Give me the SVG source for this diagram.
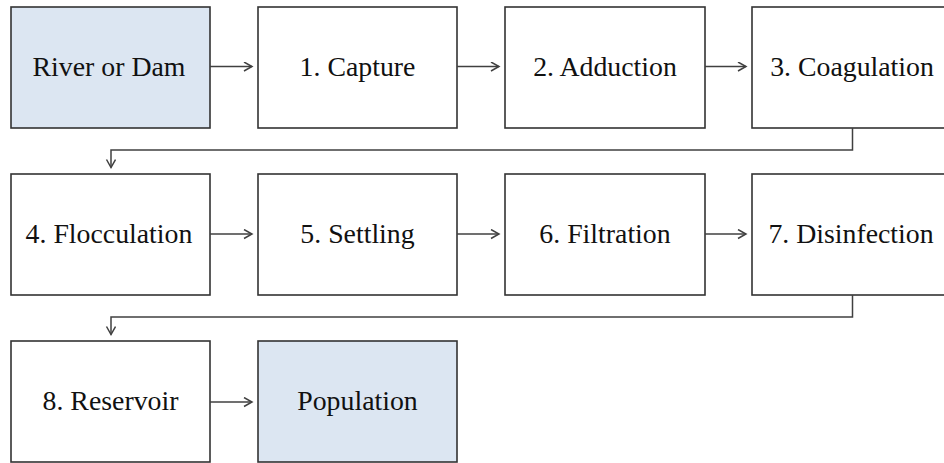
<svg xmlns="http://www.w3.org/2000/svg" width="944" height="463" viewBox="0 0 944 463">
<defs>
<marker id="ah" markerWidth="12" markerHeight="12" refX="9" refY="5" orient="auto" markerUnits="userSpaceOnUse">
<path d="M1,0.5 L9,5 L1,9.5" fill="none" stroke="#404040" stroke-width="1.5"/>
</marker>
<style>
.box{fill:#ffffff;stroke:#333333;stroke-width:1.6}
.src{fill:#dce6f2;stroke:#333333;stroke-width:1.6}
.lbl{font-family:"Liberation Serif","Times New Roman",serif;font-size:27.8px;fill:#111111;text-anchor:middle}
.con{fill:none;stroke:#404040;stroke-width:1.5;marker-end:url(#ah)}
</style>
</defs>
<rect width="944" height="463" fill="#ffffff"/>
<g id="river"><rect class="src" x="11" y="7" width="199" height="121"/><text class="lbl" x="109" y="76">River or Dam</text></g>
<g id="capture"><rect class="box" x="258" y="7" width="199" height="121"/><text class="lbl" x="357.5" y="76">1. Capture</text></g>
<g id="adduction"><rect class="box" x="505" y="7" width="200" height="121"/><text class="lbl" x="605" y="76">2. Adduction</text></g>
<g id="coagulation"><rect class="box" x="752" y="7" width="200" height="121"/><text class="lbl" x="852" y="76">3. Coagulation</text></g>
<g id="flocculation"><rect class="box" x="11" y="174" width="199" height="121"/><text class="lbl" x="109" y="243">4. Flocculation</text></g>
<g id="settling"><rect class="box" x="258" y="174" width="199" height="121"/><text class="lbl" x="357.5" y="243">5. Settling</text></g>
<g id="filtration"><rect class="box" x="505" y="174" width="200" height="121"/><text class="lbl" x="605" y="243">6. Filtration</text></g>
<g id="disinfection"><rect class="box" x="752" y="174" width="200" height="121"/><text class="lbl" x="851" y="243">7. Disinfection</text></g>
<g id="reservoir"><rect class="box" x="11" y="341" width="199" height="121"/><text class="lbl" x="110.5" y="410">8. Reservoir</text></g>
<g id="population"><rect class="src" x="258" y="341" width="199" height="121"/><text class="lbl" x="357.5" y="410">Population</text></g>
<g id="connectors">
<path class="con" d="M210,66.5 H252"/>
<path class="con" d="M457,66.5 H499"/>
<path class="con" d="M705,66.5 H746"/>
<path class="con" d="M852.5,128 V150 H111 V167.5"/>
<path class="con" d="M210,234 H252"/>
<path class="con" d="M457,234 H499"/>
<path class="con" d="M705,234 H746"/>
<path class="con" d="M852.5,295 V317 H111 V334.5"/>
<path class="con" d="M210,402 H252"/>
</g>
</svg>
